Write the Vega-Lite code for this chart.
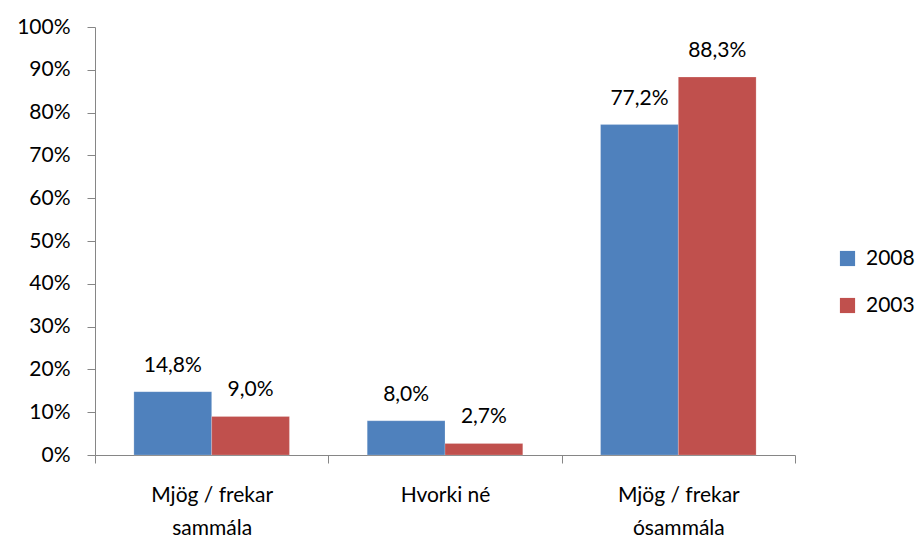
{
  "$schema": "https://vega.github.io/schema/vega-lite/v6.json",
  "autosize": "none",
  "width": 700,
  "height": 428,
  "padding": {"left": 95, "top": 27, "right": 120, "bottom": 83},
  "background": "white",
  "config": {
    "font": "Lato",
    "view": {"stroke": null},
    "locale": {"number": {"decimal": ",", "thousands": ".", "grouping": [3], "currency": ["", " kr"]}}
  },
  "data": {
    "values": [
      {"cat": "Mjög / frekar sammála", "year": "2008", "value": 0.148},
      {"cat": "Mjög / frekar sammála", "year": "2003", "value": 0.090},
      {"cat": "Hvorki né", "year": "2008", "value": 0.080},
      {"cat": "Hvorki né", "year": "2003", "value": 0.027},
      {"cat": "Mjög / frekar ósammála", "year": "2008", "value": 0.772},
      {"cat": "Mjög / frekar ósammála", "year": "2003", "value": 0.883}
    ]
  },
  "encoding": {
    "x": {
      "field": "cat", "type": "nominal", "sort": null,
      "scale": {"paddingInner": 0, "paddingOuter": 0},
      "axis": {
        "title": null, "labelAngle": 0, "domainColor": "#868686", "tickColor": "#868686",
        "tickBand": "extent", "tickSize": 8, "labelPadding": 21, "labelFontSize": 21,
        "labelColor": "#000000", "labelLineHeight": 33, "labelBaseline": "top",
        "labelExpr": "datum.value == 'Hvorki né' ? 'Hvorki né' : (datum.value == 'Mjög / frekar sammála' ? ['Mjög / frekar', 'sammála'] : (datum.value == 'Mjög / frekar ósammála' ? ['Mjög / frekar', 'ósammála'] : ''))"
      }
    },
    "xOffset": {"field": "year", "type": "nominal", "sort": ["2008", "2003"], "scale": {"paddingInner": 0, "paddingOuter": 0.5}},
    "y": {
      "field": "value", "type": "quantitative",
      "scale": {"domain": [0, 1], "nice": false},
      "axis": {
        "title": null, "format": ".0%", "values": [0, 0.1, 0.2, 0.3, 0.4, 0.5, 0.6, 0.7, 0.8, 0.9, 1],
        "grid": false, "domainColor": "#868686", "tickColor": "#868686", "tickSize": 8,
        "labelFontSize": 21, "labelColor": "#000000", "labelPadding": 17
      }
    }
  },
  "layer": [
    {
      "mark": {"type": "bar", "stroke": "white", "strokeWidth": 0.5, "strokeOpacity": 0.4},
      "encoding": {
        "color": {
          "field": "year", "type": "nominal", "sort": ["2008", "2003"],
          "scale": {"domain": ["2008", "2003"], "range": ["#4F81BD", "#C0504D"]},
          "legend": {
            "title": null, "orient": "none", "legendX": 742, "legendY": 221,
            "symbolType": "square", "symbolSize": 230, "symbolStrokeWidth": 0,
            "labelFontSize": 21, "labelColor": "#000000", "rowPadding": 25, "labelOffset": 8
          }
        }
      }
    },
    {
      "mark": {"type": "text", "baseline": "bottom", "dy": -16, "fontSize": 21, "color": "#000000"},
      "encoding": {
        "text": {"field": "value", "type": "quantitative", "format": ".1%"}
      }
    }
  ]
}
